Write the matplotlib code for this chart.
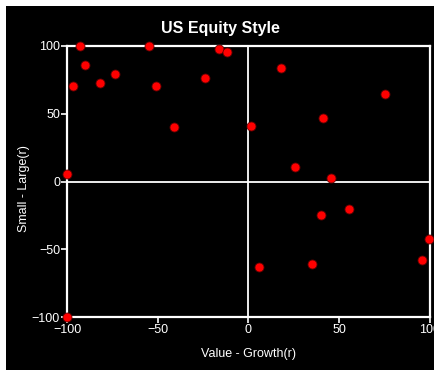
import matplotlib
matplotlib.use("Agg")
import matplotlib.pyplot as plt
from matplotlib.patches import Rectangle

plt.rcParams['font.family'] = ['Liberation Sans', 'DejaVu Sans']

# style scores (r)
value_growth = [-96.5, -93, -90.3, -81.6, -73.5, -55, -50.8, -41, -24.1, -16.3,
                -11.8, 1.4, 18.1, 40.9, 75.4, -100, 25.8, 45.3, 40, 55.5,
                99.3, 5.6, 34.8, 95.6, -100]
small_large = [70.5, 100, 86, 73, 79, 100, 70.5, 40, 76.5, 97.8,
               95.3, 41, 83.8, 47, 64.8, 5.8, 10.7, 2.7, -25, -20.3,
               -42.7, -63, -60.7, -58, -100]
ticks = [-100, -50, 0, 50, 100]

W, H = 435, 370
fig = plt.figure(figsize=(W / 100, H / 100), dpi=100, facecolor='white')
fig.patches.append(Rectangle((6 / W, 0), 1, (H - 6) / H, transform=fig.transFigure,
                             facecolor='black', edgecolor='none', zorder=-10))

ax = fig.add_axes([67 / W, (H - 317) / H, (430 - 67) / W, (317 - 46) / H])
ax.set_facecolor('black')
ax.set_xlim(-100, 100)
ax.set_ylim(-100, 100)

ax.axhline(0, color='white', lw=1.3, zorder=1)
ax.axvline(0, color='white', lw=1.3, zorder=1)

ax.scatter(value_growth, small_large, s=42, color='red', edgecolors='#660000',
           linewidths=0.6, zorder=5, clip_on=False)

for sp in ax.spines.values():
    sp.set_color('white')
    sp.set_linewidth(1.6)

ax.set_xticks(ticks)
ax.set_yticks(ticks)
ax.tick_params(colors='white', labelsize=9, length=4, width=1.2, pad=1)

# title is centred on the black panel, not on the axes
fig.text(220.5 / W, (H - 28) / H, 'US Equity Style', color='white', fontsize=11.5,
         fontweight='bold', ha='center', va='center')
ax.set_xlabel('Value - Growth(r)', color='white', fontsize=9, labelpad=9)
ax.set_ylabel('Small - Large(r)', color='white', fontsize=9, va='center')
ax.yaxis.set_label_coords((24 - 67) / 363, (317 - 188.5) / 271)

fig.savefig('out.png', dpi=100, facecolor='white')
